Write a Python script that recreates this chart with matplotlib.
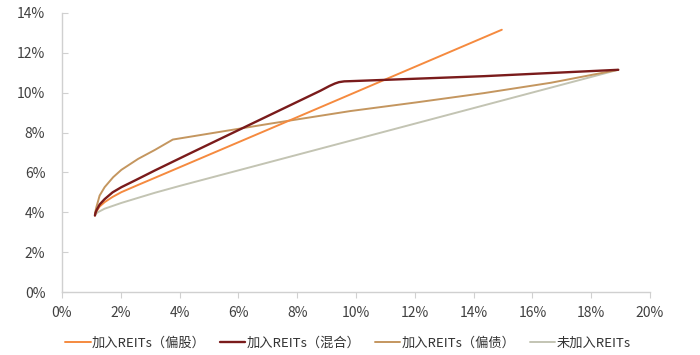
import matplotlib
matplotlib.use("Agg")
import matplotlib.pyplot as plt
from matplotlib.ticker import FuncFormatter

plt.rcParams['font.family'] = ['Noto Sans CJK SC', 'DejaVu Sans']

# risk (x, %) and return (y, %)
equity_x = [1.12, 1.14, 1.17, 1.28, 1.45, 1.72, 2.02, 2.60, 3.16, 4.29, 7.09, 9.47, 11.18, 14.96]
equity_y = [3.84, 3.95, 4.04, 4.29, 4.51, 4.77, 5.01, 5.38, 5.73, 6.44, 8.20, 9.70, 10.78, 13.16]

mixed_x = [1.12, 1.14, 1.17, 1.28, 1.45, 1.72, 2.02, 2.50, 3.16, 4.29, 8.79, 9.10, 9.28, 9.42, 9.60, 9.81, 14.35, 18.92]
mixed_y = [3.84, 3.97, 4.09, 4.39, 4.66, 5.00, 5.26, 5.61, 6.10, 6.91, 10.10, 10.34, 10.46, 10.53, 10.57, 10.58, 10.83, 11.15]

bond_x = [1.12, 1.13, 1.17, 1.28, 1.45, 1.74, 2.02, 2.59, 3.16, 3.77, 7.09, 9.81, 12.08, 14.35, 16.63, 18.92]
bond_y = [3.84, 4.00, 4.26, 4.84, 5.26, 5.76, 6.13, 6.68, 7.13, 7.65, 8.45, 9.08, 9.52, 9.98, 10.50, 11.15]

base_x = [1.12, 1.15, 1.23, 1.45, 2.02, 2.60, 3.16, 4.02, 18.92]
base_y = [3.84, 3.93, 4.01, 4.18, 4.47, 4.73, 4.98, 5.33, 11.15]

labels = ["加入REITs（偏股）", "加入REITs（混合）", "加入REITs（偏债）", "未加入REITs"]
colors = ["#F58A3F", "#7A1B1B", "#C4965F", "#C3C4B3"]

fig = plt.figure(figsize=(7, 3.55), dpi=100)
ax = fig.add_axes([62 / 700, 1 - 292 / 355, 588 / 700, 279 / 355])

series = [(equity_x, equity_y), (mixed_x, mixed_y), (bond_x, bond_y), (base_x, base_y)]
widths = [1.4, 1.7, 1.4, 1.4]
zorders = [4, 5, 3, 2]
for (xs, ys), lab, col, lw, z in zip(series, labels, colors, widths, zorders):
    ax.plot(xs, ys, color=col, lw=lw, label=lab, zorder=z,
            solid_joinstyle="round", solid_capstyle="round")

ax.set_xlim(0, 20)
ax.set_ylim(0, 14)
ax.set_xticks(range(0, 21, 2))
ax.set_yticks(range(0, 15, 2))
pct = FuncFormatter(lambda v, _: f"{v:.0f}%")
ax.xaxis.set_major_formatter(pct)
ax.yaxis.set_major_formatter(pct)

for s in ["top", "right"]:
    ax.spines[s].set_visible(False)
for s in ["left", "bottom"]:
    ax.spines[s].set_color("#D0D0D0")
    ax.spines[s].set_linewidth(1.0)

ax.tick_params(axis="x", direction="out", length=4, color="#D0D0D0",
               labelsize=10, labelcolor="#404040", pad=6)
ax.tick_params(axis="y", direction="in", length=4, color="#D0D0D0",
               labelsize=10, labelcolor="#404040", pad=12)

fig.legend(loc="center", bbox_to_anchor=(0.497, 1 - 343 / 355), ncol=4,
           frameon=False, fontsize=9.5, handlelength=1.9, handletextpad=0.1,
           columnspacing=1.1, labelcolor="#333333")

fig.savefig("out.png", dpi=100)
